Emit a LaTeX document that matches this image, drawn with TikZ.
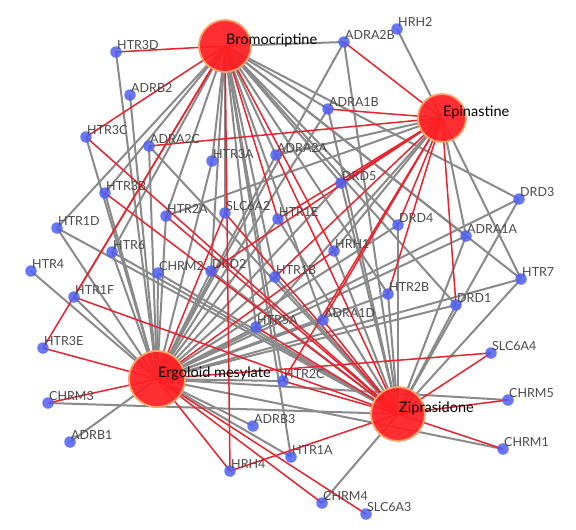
\documentclass[tikz,border=0pt]{standalone}
\usepackage{fontspec}
\setmainfont{Lato}
\usetikzlibrary{backgrounds,calc}
\definecolor{hubred}{HTML}{FF1E22}
\definecolor{hubrim}{HTML}{F7A66A}
\definecolor{tblue}{HTML}{4D5FF2}
\definecolor{egray}{HTML}{8A8A8A}
\definecolor{ered}{HTML}{E8232E}
\definecolor{labgray}{HTML}{4A4A4A}
\tikzset{
  hub/.style={circle, fill=hubred, fill opacity=0.93, draw=hubrim, line width=1.8pt, inner sep=0pt},
  tgt/.style={circle, fill=tblue, fill opacity=0.85, draw=none, minimum size=11.5pt, inner sep=0pt},
  tlab/.style={anchor=base west, inner sep=0pt, text=labgray, font=\fontsize{12.5}{14}\selectfont},
  hlab/.style={anchor=base west, inner sep=0pt, text=black, font=\fontsize{14.5}{16}\selectfont},
  ge/.style={draw=egray, line width=2pt},
  re/.style={draw=ered, line width=1.5pt},
}
\newcommand{\tgtnode}[3]{%
  \node[tgt] (#1) at (#2,#3) {};
  \node[tlab] (#1-l) at ($(#1)+(1,-3)$) {#1};}
\begin{document}
\begin{tikzpicture}[x=1pt,y=-1pt]
\useasboundingbox (0,0) rectangle (576,530);
% hubs
\node[hub, minimum size=52pt] (Bromo) at (225,46) {};
\node[hub, minimum size=48pt] (Epin) at (442,118) {};
\node[hub, minimum size=56pt] (Ergo) at (157,379) {};
\node[hub, minimum size=54pt] (Zipr) at (398,414) {};
% targets
\tgtnode{HTR3D}{116}{52}
\tgtnode{ADRB2}{130}{95}
\tgtnode{HTR3C}{86}{137}
\tgtnode{ADRA2C}{149}{146}
\tgtnode{HTR3A}{212}{161}
\tgtnode{ADRA2A}{276}{155}
\tgtnode{ADRA2B}{344}{42}
\tgtnode{HRH2}{397}{29}
\tgtnode{ADRA1B}{328}{109}
\tgtnode{DRD5}{341}{183}
\tgtnode{HTR3B}{105}{193}
\tgtnode{HTR2A}{166}{216}
\tgtnode{SLC6A2}{225}{213}
\tgtnode{HTR1E}{278}{219}
\tgtnode{HTR1D}{57}{228}
\tgtnode{HTR6}{112}{252}
\tgtnode{HTR4}{31}{271}
\tgtnode{CHRM2}{158}{273}
\tgtnode{DRD2}{211}{271}
\tgtnode{HTR1B}{275}{277}
\tgtnode{HTR1F}{74}{297}
\tgtnode{HTR5A}{256}{327}
\tgtnode{HTR3E}{43}{348}
\tgtnode{DRD3}{519}{199}
\tgtnode{DRD4}{398}{225}
\tgtnode{ADRA1A}{466}{236}
\tgtnode{HRH1}{334}{251}
\tgtnode{HTR7}{521}{279}
\tgtnode{HTR2B}{388}{294}
\tgtnode{DRD1}{456}{305}
\tgtnode{ADRA1D}{323}{320}
\tgtnode{SLC6A4}{491}{353}
\tgtnode{HTR2C}{283}{381}
\tgtnode{CHRM5}{508}{400}
\tgtnode{CHRM1}{503}{449}
\tgtnode{HTR1A}{291}{457}
\tgtnode{CHRM4}{322}{503}
\tgtnode{SLC6A3}{366}{514}
\tgtnode{CHRM3}{48}{403}
\tgtnode{ADRB1}{70}{442}
\tgtnode{ADRB3}{253}{426}
\tgtnode{HRH4}{230}{471}
% hub labels
\node[hlab] (Bromo-l) at (226,45) {Bromocriptine};
\node[hlab] (Epin-l) at (443,116.5) {Epinastine};
\node[hlab] (Ergo-l) at (158,377) {Ergoloid mesylate};
\node[hlab] (Zipr-l) at (399,412) {Ziprasidone};
% edges
\begin{scope}[on background layer]
\foreach \t/\h in {HTR3D/Ergo, ADRB2/Ergo, HTR3C/Ergo, ADRA2C/Ergo, ADRA2C/Zipr,
  HTR3A/Bromo, HTR3A/Ergo, ADRA2A/Bromo, ADRA2A/Epin, ADRA2A/Ergo,
  ADRA2B/Bromo, ADRA2B/Ergo, ADRA2B/Zipr, HRH2/Epin,
  ADRA1B/Bromo, ADRA1B/Ergo, ADRA1B/Zipr, DRD5/Bromo, DRD5/Ergo, DRD5/Zipr,
  HTR3B/Bromo, HTR3B/Ergo, HTR2A/Bromo, HTR2A/Ergo, HTR2A/Epin, SLC6A2/Bromo,
  HTR1E/Ergo, HTR1E/Zipr, HTR1D/Bromo, HTR1D/Ergo, HTR1D/Zipr,
  HTR6/Bromo, HTR6/Ergo, HTR6/Zipr, HTR4/Ergo, CHRM2/Ergo, CHRM2/Zipr,
  DRD2/Bromo, DRD2/Ergo, DRD2/Zipr, HTR1B/Bromo, HTR1B/Ergo, HTR1B/Zipr,
  HTR1F/Ergo, HTR5A/Bromo, HTR5A/Ergo, HTR5A/Epin,
  DRD3/Bromo, DRD3/Ergo, DRD3/Zipr, ADRA1A/Bromo, ADRA1A/Epin, ADRA1A/Ergo, ADRA1A/Zipr,
  HTR7/Bromo, HTR7/Ergo, HTR7/Epin, HTR7/Zipr, DRD1/Bromo, DRD1/Ergo, DRD1/Zipr,
  DRD4/Bromo, DRD4/Ergo, DRD4/Zipr, HRH1/Epin, HRH1/Zipr,
  HTR2B/Bromo, HTR2B/Ergo, HTR2B/Zipr, ADRA1D/Ergo, ADRA1D/Bromo,
  HTR2C/Ergo, HTR2C/Bromo, CHRM5/Ergo, CHRM1/Ergo, CHRM4/Zipr,
  HTR1A/Bromo, HTR1A/Ergo, ADRB3/Ergo, CHRM3/Zipr, ADRB1/Ergo}
  \draw[ge] (\t.center) -- (\h.center);
\foreach \t/\h in {HTR3D/Bromo, HTR3C/Bromo, HTR3C/Zipr, ADRA2C/Epin, ADRA2A/Zipr,
  ADRA2B/Epin, ADRA1B/Epin, DRD5/Epin, HTR3B/Zipr, HTR2A/Zipr,
  SLC6A2/Ergo, SLC6A2/Zipr, HTR1E/Epin, HTR1E/Bromo, DRD2/Epin, HTR1B/Epin,
  HTR1F/Bromo, HTR1F/Zipr, HTR5A/Zipr, HTR3E/Bromo, HTR3E/Ergo,
  DRD1/Epin, DRD4/Epin, HRH1/Bromo, HRH1/Ergo, HTR2B/Epin,
  ADRA1D/Epin, ADRA1D/Zipr, HTR2C/Epin, HTR2C/Zipr, SLC6A4/Ergo, SLC6A4/Zipr,
  CHRM5/Zipr, CHRM1/Zipr, CHRM4/Ergo, SLC6A3/Ergo,
  HRH4/Bromo, HRH4/Ergo, HRH4/Zipr, CHRM3/Ergo}
  \draw[re] (\t.center) -- (\h.center);
\end{scope}
\end{tikzpicture}
\end{document}
